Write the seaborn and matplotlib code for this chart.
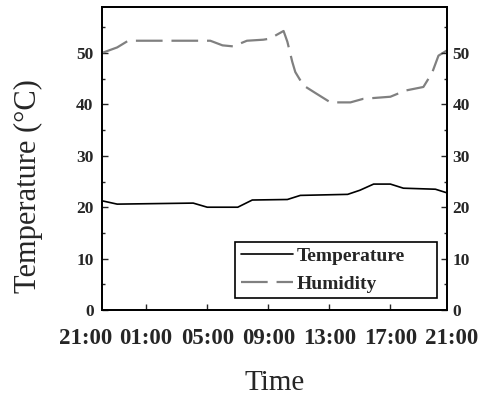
import numpy as np
import pandas as pd
import matplotlib
matplotlib.use("Agg")
import matplotlib.pyplot as plt
import seaborn as sns

# hours after 21:00
temp_hours = [1.18, 2.1, 7.08, 8.0, 10.0, 10.95, 13.25, 14.1, 17.2, 18.0, 18.9, 20.0, 20.85, 22.95, 23.7]
temp_values = [21.2, 20.6, 20.8, 20.0, 20.0, 21.4, 21.5, 22.3, 22.5, 23.3, 24.5, 24.5, 23.7, 23.5, 22.8]

hum_hours = [1.18, 2.1, 2.82, 8.2, 9.0, 9.7, 10.6, 11.67, 12.1, 13.0, 13.25, 13.57, 13.77,
             14.3, 15.1, 16.07, 17.38, 18.23, 20.0, 20.98, 22.16, 22.43, 22.75, 23.15, 23.7]
hum_values = [50.1, 51.1, 52.4, 52.4, 51.5, 51.3, 52.4, 52.6, 52.8, 54.3, 52.2, 48.3, 46.3,
              43.7, 42.2, 40.4, 40.4, 41.1, 41.5, 42.7, 43.4, 44.7, 46.3, 49.5, 50.5]

tick_hours = [0, 4, 8, 12, 16, 20, 24]
tick_labels = ['21:00', '01:00', '05:00', '09:00', '13:00', '17:00', '21:00']

sns.set_style("ticks")
plt.rcParams['font.family'] = ['Liberation Serif', 'DejaVu Serif']

fig = plt.figure(figsize=(4.9, 4.01), dpi=100)
ax = fig.add_axes([0.208, 0.227, 0.704, 0.756])

t_df = pd.DataFrame({'h': temp_hours, 'v': temp_values})
h_df = pd.DataFrame({'h': hum_hours, 'v': hum_values})
sns.lineplot(data=t_df, x='h', y='v', ax=ax, color='black', lw=1.2, label='Temperature')
sns.lineplot(data=h_df, x='h', y='v', ax=ax, color='#808080', lw=1.6, label='Humidity',
             dashes=False)
ax.lines[1].set_dashes([12, 4])

ax.set_xlim(1.1, 23.7)
ax.set_ylim(0, 59)
ax.set_xticks(tick_hours[1:-1])
ax.set_xticklabels(tick_labels[1:-1])
trans = ax.get_xaxis_transform()
for h, lab in [(tick_hours[0], tick_labels[0]), (tick_hours[-1], tick_labels[-1])]:
    ax.text(h, -0.06, lab, transform=trans, ha='center', va='top',
            fontsize=16.5, fontweight='bold', clip_on=False)

ax.set_yticks([0, 10, 20, 30, 40, 50])
ax.set_yticks(np.arange(5, 59, 10), minor=True)
ax.tick_params(axis='x', direction='in', length=4, width=1, pad=13, labelsize=16.5, top=False)
ax.tick_params(axis='y', which='major', direction='in', length=4, width=1, pad=6, labelsize=12.5)
ax.tick_params(axis='y', which='minor', direction='in', length=2, width=1)
for lab in ax.get_xticklabels() + ax.get_yticklabels():
    lab.set_fontweight('bold')

ax2 = ax.twinx()
ax2.set_ylim(0, 59)
ax2.set_yticks([0, 10, 20, 30, 40, 50])
ax2.set_yticks(np.arange(5, 59, 10), minor=True)
ax2.tick_params(axis='y', which='major', direction='in', length=4, width=1, pad=4, labelsize=12.5)
ax2.tick_params(axis='y', which='minor', direction='in', length=2, width=1)
for lab in ax2.get_yticklabels():
    lab.set_fontweight('bold')

for a in (ax, ax2):
    for s in a.spines.values():
        s.set_visible(True)
        s.set_linewidth(1.3)
        s.set_color('black')

ax.set_xlabel('Time', fontsize=21, labelpad=15)
ax.set_ylabel('Temperature (°C)', fontsize=22)
ax.yaxis.set_label_coords(-0.172, 0.41)

leg = ax.legend(loc='lower left', bbox_to_anchor=(0.386, 0.038, 0.585, 0.2), mode='expand',
                frameon=True, fancybox=False,
                edgecolor='black', framealpha=1, handlelength=2.7, handletextpad=0.15,
                borderpad=0.3, labelspacing=0.5, borderaxespad=0,
                prop={'weight': 'bold', 'size': 14})
leg.get_frame().set_linewidth(1.2)

fig.savefig('out.png', dpi=100)
